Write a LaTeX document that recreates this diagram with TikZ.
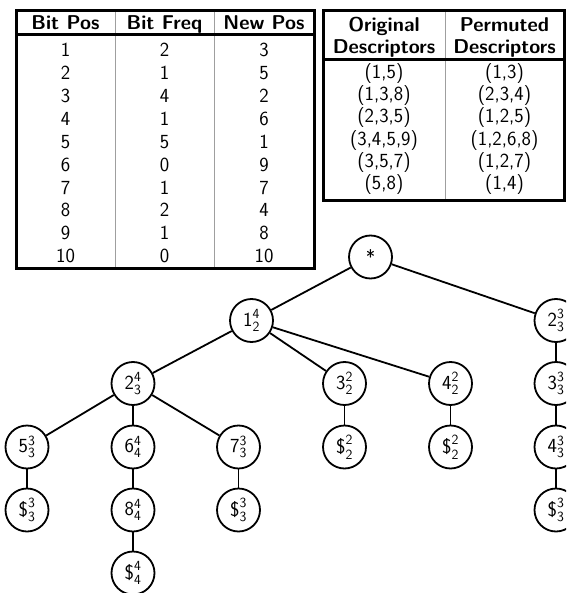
\documentclass[tikz,border=0pt]{standalone}
\usepackage{fontspec}
\begin{document}
\begin{tikzpicture}[x=1pt,y=-1pt,
  every node/.style={font=\fontsize{20}{24}\selectfont\sffamily},
  cell/.style={anchor=base, inner sep=0pt},
  head/.style={cell, font=\fontsize{20}{24}\selectfont\sffamily\bfseries},
  frame/.style={line width=3pt},
  colrule/.style={line width=1pt, gray!75},
  vtx/.style={circle, draw, line width=1.8pt, minimum size=43pt, inner sep=0pt},
  edge/.style={line width=1.8pt}]
\useasboundingbox (0,0) rectangle (566,593);
\clip (0,0) rectangle (566,593);

% ---- bit frequency table ----
\draw[colrule] (115,10.5) -- (115,268.5) (214,10.5) -- (214,268.5);
\draw[frame] (16,10.5) rectangle (314,268.5);
\draw[frame] (16,35) -- (314,35);
\node[head] (h1) at (65.5,29.6) {Bit Pos};
\node[head] (h2) at (164.5,29.6) {Bit Freq};
\node[head] (h3) at (264,29.6) {New Pos};
\foreach \a/\b/\c [count=\i from 0] in
  {1/2/3,2/1/5,3/4/2,4/1/6,5/5/1,6/0/9,7/1/7,8/2/4,9/1/8,10/0/10}{
  \node[cell] (p\i) at (65.5,{56.4+22.94*\i}) {\a};
  \node[cell] (f\i) at (164.5,{56.4+22.94*\i}) {\b};
  \node[cell] (n\i) at (264,{56.4+22.94*\i}) {\c};
}

% ---- descriptor table ----
\draw[colrule] (445,11) -- (445,200.5);
\draw[frame] (323,11) rectangle (564,200.5);
\draw[frame] (323,60) -- (564,60);
\node[head] (o1) at (384,31.9) {Original};
\node[head] (o2) at (384,53.6) {Descriptors};
\node[head] (q1) at (504.5,31.9) {Permuted};
\node[head] (q2) at (504.5,53.6) {Descriptors};
\node[cell] (d0) at (384,78.5) {(1,5)};
\node[cell] (d1) at (384,100.7) {(1,3,8)};
\node[cell] (d2) at (384,122.9) {(2,3,5)};
\node[cell] (d3) at (384,145.1) {(3,4,5,9)};
\node[cell] (d4) at (384,167.3) {(3,5,7)};
\node[cell] (d5) at (384,189.5) {(5,8)};
\node[cell] (e0) at (504.5,78.5) {(1,3)};
\node[cell] (e1) at (504.5,100.7) {(2,3,4)};
\node[cell] (e2) at (504.5,122.9) {(1,2,5)};
\node[cell] (e3) at (504.5,145.1) {(1,2,6,8)};
\node[cell] (e4) at (504.5,167.3) {(1,2,7)};
\node[cell] (e5) at (504.5,189.5) {(1,4)};

% ---- tree ----
\node[vtx] (root) at (370.5,257) {*};
\node[vtx] (a1) at (251.5,320.5) {$\mathsf{1}_{\mathsf{2}}^{\mathsf{4}}$};
\node[vtx] (b2) at (556,320.5) {$\mathsf{2}_{\mathsf{3}}^{\mathsf{3}}$};
\node[vtx] (a2) at (133,383.5) {$\mathsf{2}_{\mathsf{3}}^{\mathsf{4}}$};
\node[vtx] (a3) at (344.5,383.5) {$\mathsf{3}_{\mathsf{2}}^{\mathsf{2}}$};
\node[vtx] (a4) at (450.5,383.5) {$\mathsf{4}_{\mathsf{2}}^{\mathsf{2}}$};
\node[vtx] (b3) at (556,383.5) {$\mathsf{3}_{\mathsf{3}}^{\mathsf{3}}$};
\node[vtx] (a5) at (27,447) {$\mathsf{5}_{\mathsf{3}}^{\mathsf{3}}$};
\node[vtx] (a6) at (133,447) {$\mathsf{6}_{\mathsf{4}}^{\mathsf{4}}$};
\node[vtx] (a7) at (238.5,447) {$\mathsf{7}_{\mathsf{3}}^{\mathsf{3}}$};
\node[vtx] (t3) at (344.5,447) {${\textsf{\$}}_{\mathsf{2}}^{\mathsf{2}}$};
\node[vtx] (t4) at (450.5,447) {${\textsf{\$}}_{\mathsf{2}}^{\mathsf{2}}$};
\node[vtx] (b4) at (556,447) {$\mathsf{4}_{\mathsf{3}}^{\mathsf{3}}$};
\node[vtx] (t5) at (27,510) {${\textsf{\$}}_{\mathsf{3}}^{\mathsf{3}}$};
\node[vtx] (a8) at (133,510) {$\mathsf{8}_{\mathsf{4}}^{\mathsf{4}}$};
\node[vtx] (t7) at (238.5,510) {${\textsf{\$}}_{\mathsf{3}}^{\mathsf{3}}$};
\node[vtx] (tb) at (556,510) {${\textsf{\$}}_{\mathsf{3}}^{\mathsf{3}}$};
\node[vtx] (t8) at (133,573) {${\textsf{\$}}_{\mathsf{4}}^{\mathsf{4}}$};

\draw[edge] (root) -- (a1);
\draw[edge] (root) -- (b2);
\draw[edge] (a1) -- (a2);
\draw[edge] (a1) -- (a3);
\draw[edge] (a1) -- (a4);
\draw[edge] (a2) -- (a5);
\draw[edge] (a2) -- (a6);
\draw[edge] (a2) -- (a7);
\draw[edge] (a3) -- (t3);
\draw[edge] (a4) -- (t4);
\draw[edge] (a5) -- (t5);
\draw[edge] (a6) -- (a8);
\draw[edge] (a8) -- (t8);
\draw[edge] (a7) -- (t7);
\draw[edge] (b2) -- (b3);
\draw[edge] (b3) -- (b4);
\draw[edge] (b4) -- (tb);
\end{tikzpicture}
\end{document}
